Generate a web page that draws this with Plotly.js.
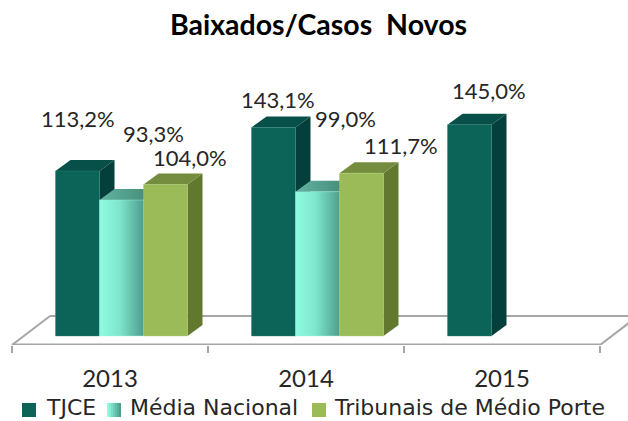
<!DOCTYPE html>
<html>
<head>
<meta charset="utf-8">
<script src="https://cdn.plot.ly/plotly-3.0.1.min.js"></script>
<style>html,body{margin:0;padding:0;background:#fff}</style>
</head>
<body>
<div id="chart" style="width:628px;height:421px"></div>
<script>
const categories = ['2013', '2014', '2015'];
const seriesNames = ['TJCE', 'Média Nacional', 'Tribunais de Médio Porte'];
const tjce = [113.2, 143.1, 145.0];
const mediaNacional = [93.3, 99.0, null];
const tribunaisMedioPorte = [104.0, 111.7, null];

const W = 628, H = 421, PLOT_H = 345, BASE_PX = 336, PX_PER_UNIT = 1.4576, CAT_PX = 196, CENTER0 = 110;
const xRange = [-CENTER0 / CAT_PX, (W - CENTER0) / CAT_PX];
const yRange = [-(PLOT_H - BASE_PX) / PX_PER_UNIT, BASE_PX / PX_PER_UNIT];
const barW = 44 / CAT_PX, shift = 11.5 / CAT_PX, dx = 15 / CAT_PX, dy = 11 / PX_PER_UNIT;
const FONT = 'Lato, "Open Sans", sans-serif';
const LEGEND_FONT = '"DejaVu Sans", "Open Sans", sans-serif';

const styles = [
  {front: '#0c6459', top: '#07504a', side: '#053f3b', edge: '#2f8379'},
  {front: '#8ffce0', top: '#5fae9d', side: '#3f8a77', edge: '#a8f5e2',
   grad: [[0, '#8ffce0'], [0.45, '#7fe6cd'], [1, '#4d9f8d']], topGrad: [[0, '#62b3a1'], [1, '#3f8472']]},
  {front: '#9bbb59', top: '#748c3e', side: '#62782f', edge: '#aec873'}
];
const series = [tjce, mediaNacional, tribunaisMedioPorte];

// label offsets (px) from the top-centre of each bar's front face
const labelDx = [[0, 4, 19], [32, 28, 0], [24, 39, 0]];
const labelDy = [[53, 28, 34], [67, 73, 0], [27, 28, 0]];

const traces = [];
function poly(xs, ys, color, name, grad, gx0, gx1) {
  const t = {type: 'scatter', mode: 'lines', x: xs.concat([xs[0]]), y: ys.concat([ys[0]]),
    fill: 'toself', fillcolor: color, line: {width: 0, color: color}, name: name,
    hoverinfo: 'skip', showlegend: false};
  if (grad) {
    t.fillgradient = {type: 'horizontal', start: gx0, stop: gx1, colorscale: grad};
  }
  traces.push(t);
}

const annotations = [];
categories.forEach((c, i) => {
  series.forEach((vals, k) => {
    const v = vals[i];
    if (v === null) return;
    const st = styles[k];
    const x0 = i + shift + (k - 1.5) * barW, x1 = x0 + barW;
    poly([x1, x1 + dx, x1 + dx, x1], [0, dy, v + dy, v], st.side, seriesNames[k] + ' lateral');
    poly([x0, x1, x1 + dx, x0 + dx], [v, v, v + dy, v + dy], st.top, seriesNames[k] + ' topo', st.topGrad, x0, x1 + dx);
    poly([x0, x1, x1, x0], [0, 0, v, v], st.front, seriesNames[k] + ' ' + c, st.grad, x0, x1);
    traces.push({type: 'scatter', mode: 'lines', x: [x0, x0, x1, x1, x0], y: [0, v, v, 0, 0],
      line: {width: 0.8, color: st.edge}, hoverinfo: 'skip', showlegend: false, opacity: 0.5});
    annotations.push({xref: 'x', yref: 'y', x: x0 + barW / 2, y: v,
      xshift: labelDx[k][i], yshift: labelDy[k][i], showarrow: false,
      text: v.toFixed(1).replace('.', ',') + '%',
      font: {family: FONT, size: 22, color: '#262626'}});
  });
});

// Floor furniture
const gridColor = '#a6a6a6';
const floorBack = 20 / PX_PER_UNIT, floorFront = yRange[0];
const px = p => (p - CENTER0) / CAT_PX;
const shapes = [
  {type: 'line', xref: 'x', yref: 'y', x0: px(12), x1: px(600), y0: floorFront, y1: floorFront, line: {color: gridColor, width: 3}},
  {type: 'line', xref: 'x', yref: 'y', x0: px(12), x1: px(50), y0: floorFront, y1: floorBack, line: {color: gridColor, width: 2}},
  {type: 'line', xref: 'x', yref: 'y', x0: px(50), x1: px(628), y0: floorBack, y1: floorBack, line: {color: gridColor, width: 2}},
  {type: 'line', xref: 'x', yref: 'y', x0: px(600), x1: px(638), y0: floorFront, y1: floorBack, line: {color: gridColor, width: 2}}
];
shapes.forEach(s => s.layer = 'below');

// Legend keys and labels ('paper' spans the plot area, which ends at PLOT_H)
const legendX = [{sw: 22, tx: 47}, {sw: 107, tx: 131}, {sw: 312, tx: 335}];
const paperY = p => (PLOT_H - p) / PLOT_H;
function hexMix(a, b, t) {
  const p = h => [1, 3, 5].map(j => parseInt(h.substr(j, 2), 16));
  const A = p(a), B = p(b);
  return 'rgb(' + A.map((v, j) => Math.round(v + (B[j] - v) * t)).join(',') + ')';
}
seriesNames.forEach((n, k) => {
  const l = legendX[k];
  const st = styles[k];
  const steps = st.grad ? 7 : 1;
  for (let s = 0; s < steps; s++) {
    const a = l.sw + 14 * s / steps, b = l.sw + 14 * (s + 1) / steps;
    shapes.push({type: 'rect', xref: 'paper', yref: 'paper', x0: a / W, x1: b / W,
      y0: paperY(417), y1: paperY(403), line: {width: 0},
      fillcolor: st.grad ? hexMix(st.grad[0][1], st.grad[2][1], s / (steps - 1)) : st.front});
  }
  annotations.push({xref: 'paper', yref: 'paper', x: l.tx / W, y: paperY(407.5), yanchor: 'middle', xanchor: 'left',
    xshift: -3, showarrow: false, text: n, font: {family: LEGEND_FONT, size: 22, color: '#262626'}});
});

const layout = {
  width: W, height: H,
  margin: {l: 0, r: 0, t: 0, b: H - PLOT_H, pad: 0},
  paper_bgcolor: '#fff', plot_bgcolor: '#fff',
  showlegend: false,
  title: {text: 'Baixados/Casos  Novos', x: 318.5 / W, xanchor: 'center', y: 1 - 25 / H, yanchor: 'middle',
    font: {family: FONT, size: 28.5, color: '#000', weight: 700}},
  xaxis: {range: xRange, tickmode: 'array', tickvals: [0, 1, 2], ticktext: categories,
    ticks: '', showgrid: false, zeroline: false, showline: false,
    ticklabelstandoff: 17, tickfont: {family: FONT, size: 24, color: '#262626'},
    minor: {tickmode: 'array', tickvals: [-0.5, 0.5, 1.5, 2.5], ticks: 'outside', ticklen: 7, tickwidth: 2, tickcolor: gridColor, showgrid: false}},
  yaxis: {range: yRange, visible: false, showgrid: false, zeroline: false},
  shapes, annotations
};
Plotly.newPlot('chart', traces, layout, {displayModeBar: false, staticPlot: true});
</script>
</body>
</html>
